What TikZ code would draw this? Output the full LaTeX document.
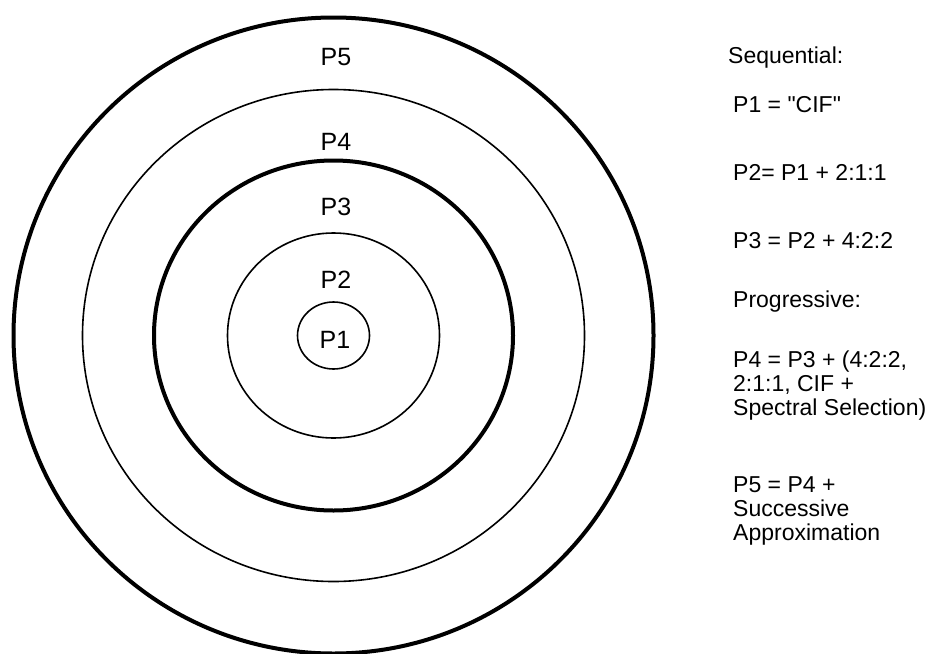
\documentclass[tikz,border=0pt]{standalone}
\usepackage{fontspec}
\setmainfont{Liberation Sans}

\begin{document}
\begin{tikzpicture}[x=1pt,y=-1pt,
    ring/.style={line width=1.6pt},
    bigring/.style={line width=4pt},
    lbl/.style={anchor=base,inner sep=0pt,font=\fontsize{25}{30}\selectfont},
    note/.style={anchor=base west,inner sep=0pt,align=left,font=\fontsize{23}{24}\selectfont}]
    \useasboundingbox (0,0) rectangle (928,653);
    \coordinate (c) at (333.5,335.5);
    \draw[bigring] (c) ellipse [x radius=320, y radius=318];
    \draw[ring] (c) ellipse [x radius=251, y radius=246];
    \draw[bigring] (c) ellipse [x radius=179.5, y radius=175];
    \draw[ring] (c) ellipse [x radius=106, y radius=102.5];
    \draw[ring] (c) ellipse [x radius=36, y radius=33.5];
    \node[lbl] (p5) at (336,65) {P5};
    \node[lbl] (p4) at (336,150) {P4};
    \node[lbl] (p3) at (336,215) {P3};
    \node[lbl] (p2) at (336,288) {P2};
    \node[lbl] (p1) at (335,348) {P1};
    \node[note] (seq) at (728,63) {Sequential:};
    \node[note] (pone) at (733,112) {P1 = \textquotedbl CIF\textquotedbl};
    \node[note] (ptwo) at (733,180) {P2= P1 + 2:1:1};
    \node[note] (pthree) at (733,248) {P3 = P2 + 4:2:2};
    \node[note] (prog) at (733,307) {Progressive:};
    \node[note] (pfour) at (733,415) {P4 = P3 + (4:2:2,\\2:1:1, CIF +\\Spectral Selection)};
    \node[note] (pfive) at (733,540) {P5 = P4 +\\Successive\\Approximation};
\end{tikzpicture}
\end{document}
